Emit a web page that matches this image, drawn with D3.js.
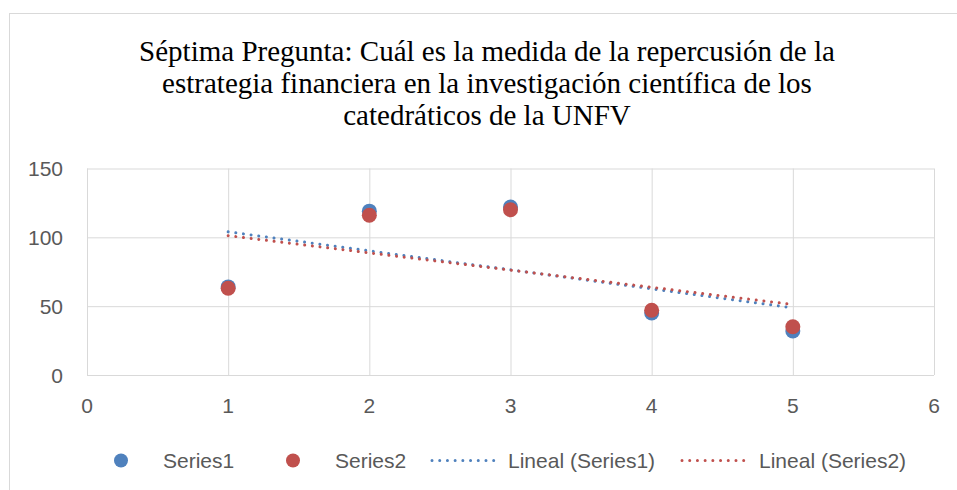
<!DOCTYPE html>
<html lang="es">
<head>
  <meta charset="UTF-8">
  <title>Séptima Pregunta</title>
  <script src="https://d3js.org/d3.v7.min.js"></script>
  <style>
    body {
      margin: 0;
      background-color: #ffffff;
    }

    .title {
      font-family: "Liberation Serif", "Times New Roman", serif;
      font-size: 29px;
      fill: #000000;
      text-anchor: middle;
    }

    .tick-label,
    .legend-label {
      font-family: "Liberation Sans", Arial, sans-serif;
      font-size: 21px;
      fill: #595959;
    }

    .grid line {
      stroke: #d9d9d9;
      stroke-width: 1;
    }
  </style>
</head>
<body>
  <svg width="957" height="490"></svg>
  <script>
    // Data
    const xValues = [1, 2, 3, 4, 5];
    const series1 = [64, 119, 122, 45, 32];
    const series2 = [63, 116, 120, 47, 35];
    const seriesNames = ["Series1", "Series2"];
    const trendNames = ["Lineal (Series1)", "Lineal (Series2)"];
    const xTicks = [0, 1, 2, 3, 4, 5, 6];
    const yTicks = [0, 50, 100, 150];
    const titleLines = [
      "Séptima Pregunta: Cuál es la medida de la repercusión de la",
      "estrategia financiera en la investigación científica de los",
      "catedráticos de la UNFV"
    ];

    const colors = ["#4f81bd", "#c0504d"];

    const svg = d3.select("svg");

    // Chart area border (runs off the right and bottom of the picture)
    svg.append("rect")
      .attr("x", 9.5)
      .attr("y", 13.5)
      .attr("width", 1000)
      .attr("height", 600)
      .attr("fill", "none")
      .attr("stroke", "#d9d9d9")
      .attr("stroke-width", 1);

    // Title
    svg.append("text")
      .attr("class", "title")
      .selectAll("tspan")
      .data(titleLines)
      .enter()
      .append("tspan")
      .attr("x", 487)
      .attr("y", (d, i) => 61 + i * 32)
      .text(d => d);

    // Scales
    const x = d3.scaleLinear().domain([0, 6]).range([87, 934]);
    const y = d3.scaleLinear().domain([0, 150]).range([375, 168.5]);

    // Gridlines
    svg.append("g")
      .attr("class", "grid")
      .attr("transform", `translate(0,${y(0)})`)
      .call(d3.axisBottom(x).tickValues(xTicks).tickSize(y(150) - y(0)).tickFormat(""))
      .call(g => g.select(".domain").remove());

    svg.append("g")
      .attr("class", "grid")
      .attr("transform", `translate(${x(0)},0)`)
      .call(d3.axisLeft(y).tickValues(yTicks).tickSize(x(0) - x(6)).tickFormat(""))
      .call(g => g.select(".domain").remove());

    // Tick labels
    svg.append("g")
      .selectAll("text")
      .data(yTicks)
      .enter()
      .append("text")
      .attr("class", "tick-label")
      .attr("x", 63)
      .attr("y", d => y(d))
      .attr("dy", "0.36em")
      .attr("text-anchor", "end")
      .text(d => d);

    svg.append("g")
      .selectAll("text")
      .data(xTicks)
      .enter()
      .append("text")
      .attr("class", "tick-label")
      .attr("x", d => x(d))
      .attr("y", 413)
      .attr("text-anchor", "middle")
      .text(d => d);

    // Markers
    [series1, series2].forEach((vals, s) => {
      svg.append("g")
        .selectAll("circle")
        .data(vals)
        .enter()
        .append("circle")
        .attr("cx", (d, i) => x(xValues[i]))
        .attr("cy", d => y(d))
        .attr("r", 7.5)
        .attr("fill", colors[s]);
    });

    // Linear trendlines (least squares)
    function fit(vals) {
      const mx = d3.mean(xValues);
      const my = d3.mean(vals);
      const num = d3.sum(xValues, (v, i) => (v - mx) * (vals[i] - my));
      const den = d3.sum(xValues, v => (v - mx) * (v - mx));
      const b = num / den;
      const a = my - b * mx;
      const ends = d3.extent(xValues);
      return ends.map(v => [v, a + b * v]);
    }

    const line = d3.line().x(d => x(d[0])).y(d => y(d[1]));

    [series1, series2].forEach((vals, s) => {
      svg.append("path")
        .attr("d", line(fit(vals)))
        .attr("fill", "none")
        .attr("stroke", colors[s])
        .attr("stroke-width", 3)
        .attr("stroke-linecap", "round")
        .attr("stroke-dasharray", "0.01 7.7");
    });

    // Legend
    const legendY = 460.5;
    const legend = svg.append("g");

    const markerPos = [121, 293];
    const markerText = [163, 335];
    seriesNames.forEach((name, i) => {
      legend.append("circle")
        .attr("cx", markerPos[i])
        .attr("cy", legendY)
        .attr("r", 7)
        .attr("fill", colors[i]);
      legend.append("text")
        .attr("class", "legend-label")
        .attr("x", markerText[i])
        .attr("y", legendY + 7)
        .text(name);
    });

    const linePos = [[432, 494], [682, 747]];
    const lineText = [508, 759];
    trendNames.forEach((name, i) => {
      legend.append("line")
        .attr("x1", linePos[i][0])
        .attr("x2", linePos[i][1])
        .attr("y1", legendY)
        .attr("y2", legendY)
        .attr("stroke", colors[i])
        .attr("stroke-width", 3)
        .attr("stroke-linecap", "round")
        .attr("stroke-dasharray", "0.01 7.7");
      legend.append("text")
        .attr("class", "legend-label")
        .attr("x", lineText[i])
        .attr("y", legendY + 7)
        .text(name);
    });
  </script>
</body>
</html>
